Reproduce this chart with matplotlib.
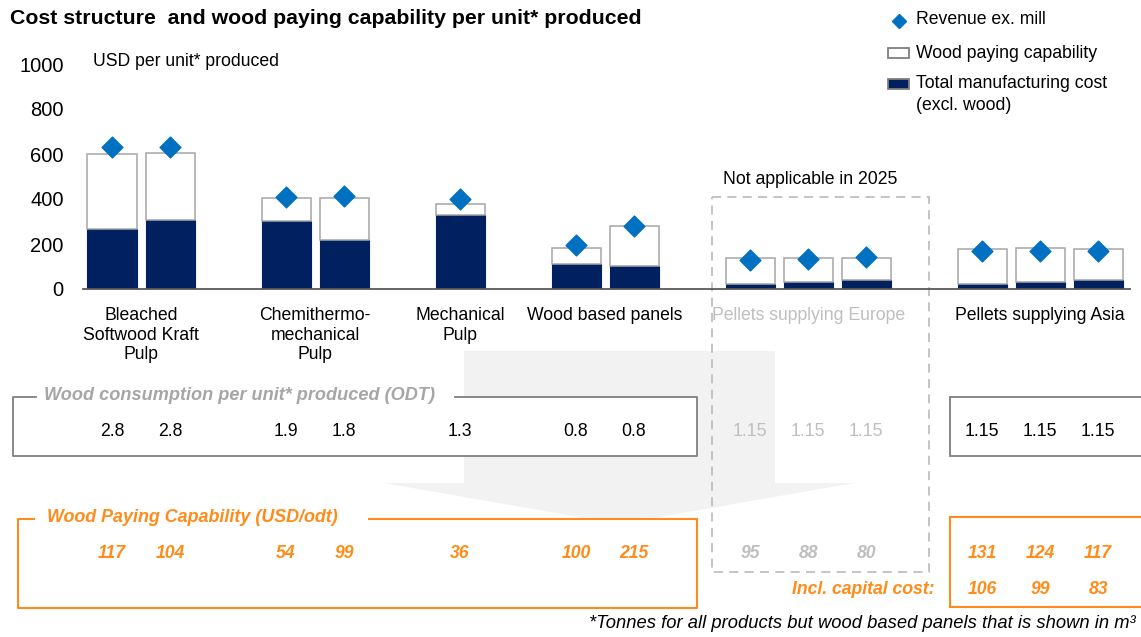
import matplotlib
matplotlib.use("Agg")
import matplotlib.pyplot as plt
from matplotlib.patches import Rectangle, Polygon
import matplotlib.transforms as mtransforms

plt.rcParams['font.family'] = ['Liberation Sans', 'DejaVu Sans']

# ────── data ──────
products = ['Bleached\nSoftwood Kraft\nPulp', 'Chemithermo-\nmechanical\nPulp',
            'Mechanical\nPulp', 'Wood based panels',
            'Pellets supplying Europe', 'Pellets supplying Asia']
bar_pos = [0, 1, 3, 4, 6, 8, 9, 11, 12, 13, 15, 16, 17]
group_pos = [0.5, 3.5, 6, 8.5, 12, 16]

manuf_cost = [265, 308, 301, 220, 330, 109, 104, 24, 31, 42, 24, 31, 42]
wood_paying = [335, 296, 102, 183, 47, 74, 177, 112, 105, 94, 156, 149, 138]
revenue = [629, 632, 411, 415, 400, 195, 281, 131, 134, 143, 170, 170, 167]

wood_use = ['2.8', '2.8', '1.9', '1.8', '1.3', '0.8', '0.8',
            '1.15', '1.15', '1.15', '1.15', '1.15', '1.15']
wpc_usd = [117, 104, 54, 99, 36, 100, 215, 95, 88, 80, 131, 124, 117]
asia_pos = [15, 16, 17]
wpc_capital = [106, 99, 83]
europe_bars = [11, 12, 13]

NAVY = '#002060'
BLUE = '#0070C0'
EDGE = '#A6A6A6'
ORANGE = '#FF8C1A'
LIGHT = '#BFBFBF'
FS = 12.7

W, H = 1141, 637
fig = plt.figure(figsize=(W / 100, H / 100), dpi=100)

# ────── bar chart ──────
ax = fig.add_axes([83 / W, (H - 289) / H, 1047 / W, 225 / H])
ax.bar(bar_pos, manuf_cost, width=0.845, color=NAVY, edgecolor=NAVY, linewidth=0.8, zorder=2)
ax.bar(bar_pos, wood_paying, bottom=manuf_cost, width=0.845, color='white',
       edgecolor=EDGE, linewidth=1.1, zorder=2)
ax.scatter(bar_pos, revenue, marker='D', s=112, color=BLUE, zorder=3, clip_on=False)

ax.set_xlim(-0.5, 17.55)
ax.set_ylim(0, 1000)
ax.set_yticks(range(0, 1001, 200))
ax.set_xticks(group_pos)
ax.set_xticklabels(products, fontsize=FS)
ax.get_xticklabels()[4].set_color(LIGHT)
ax.tick_params(axis='y', length=0, pad=14, labelsize=14.5)
ax.tick_params(axis='x', length=0, pad=13)
for s in ['top', 'right', 'left']:
    ax.spines[s].set_visible(False)
ax.spines['bottom'].set_color('#595959')
ax.spines['bottom'].set_linewidth(1.3)
ax.patch.set_visible(False)

# ────── overlay in pixel coordinates ──────
ov = fig.add_axes([0, 0, 1, 1], zorder=-1)
ov.set_xlim(0, W)
ov.set_ylim(H, 0)
ov.axis('off')

fig.text(10 / W, 1 - 18 / H, 'Cost structure  and wood paying capability per unit* produced',
         fontsize=15.3, fontweight='bold', va='center', ha='left')
ov.text(93, 61, 'USD per unit* produced', fontsize=FS, va='center')

# legend
ov.plot([899], [21], marker='D', ms=7.6, color=BLUE, ls='none')
ov.add_patch(Rectangle((888, 48), 21, 10, facecolor='white', edgecolor='#7F7F7F', lw=1.3))
ov.add_patch(Rectangle((888, 79), 21, 10, facecolor=NAVY, edgecolor='#7F7F7F', lw=1.3))
ov.text(916, 20, 'Revenue ex. mill', fontsize=FS, va='center')
ov.text(916, 53, 'Wood paying capability', fontsize=FS, va='center')
ov.text(916, 84, 'Total manufacturing cost', fontsize=FS, va='center')
ov.text(916, 106, '(excl. wood)', fontsize=FS, va='center')

# big grey arrow in background
ov.add_patch(Polygon([(464, 351), (775, 351), (775, 483), (854, 483), (619, 524),
                      (384, 483), (464, 483)], closed=True, facecolor='#F2F2F2',
                     edgecolor='none', zorder=0))

# wood consumption box
ov.add_patch(Rectangle((13, 397), 684, 59, facecolor='white', edgecolor='none', zorder=1))
ov.plot([36, 13, 13, 697, 697, 455], [397, 397, 456, 456, 397, 397], color='#7F7F7F', lw=1.3, zorder=2)
ov.add_patch(Rectangle((950, 397), 200, 59, facecolor='white', edgecolor='#7F7F7F', lw=1.3, zorder=2))
ov.text(44, 396, 'Wood consumption per unit* produced (ODT)', fontsize=13.1, fontweight='bold',
        style='italic', color='#A6A6A6', va='center', zorder=3)

# wood paying capability box
ov.add_patch(Rectangle((18, 519), 679, 89, facecolor='white', edgecolor='none', zorder=1))
ov.plot([34, 18, 18, 697, 697, 369], [519, 519, 608, 608, 519, 519], color=ORANGE, lw=1.5, zorder=2)
ov.add_patch(Rectangle((950, 517), 200, 90, facecolor='white', edgecolor=ORANGE, lw=1.5, zorder=2))
ov.text(47, 518, 'Wood Paying Capability (USD/odt)', fontsize=12.9, fontweight='bold',
        style='italic', color=ORANGE, va='center', zorder=3)
ov.text(935, 590, 'Incl. capital cost:', fontsize=FS, fontweight='bold', style='italic',
        color=ORANGE, va='center', ha='right', zorder=3)

# not applicable box
ov.add_patch(Rectangle((712, 197), 217, 375, facecolor='none', edgecolor=LIGHT, lw=1.3,
                       ls=(0, (5, 3.5)), zorder=4))
ov.text(723, 180, 'Not applicable in 2025', fontsize=FS, va='center')

# table numbers, x from the bar axis, y in pixels
tr = mtransforms.blended_transform_factory(ax.transData, ov.transData)
for x, u, p in zip(bar_pos, wood_use, wpc_usd):
    grey = x in europe_bars
    fig.text(x, 432, u, transform=tr, fontsize=FS, ha='center', va='center',
             color=LIGHT if grey else 'black')
    fig.text(x, 554, str(p), transform=tr, fontsize=FS, ha='center', va='center',
             fontweight='bold', style='italic', color=LIGHT if grey else ORANGE)
for x, c in zip(asia_pos, wpc_capital):
    fig.text(x, 590, str(c), transform=tr, fontsize=FS, ha='center', va='center',
             fontweight='bold', style='italic', color=ORANGE)

ov.text(1136, 623, '*Tonnes for all products but wood based panels that is shown in m³',
        fontsize=13.2, style='italic', ha='right', va='center')

fig.savefig('out.png', dpi=100)
